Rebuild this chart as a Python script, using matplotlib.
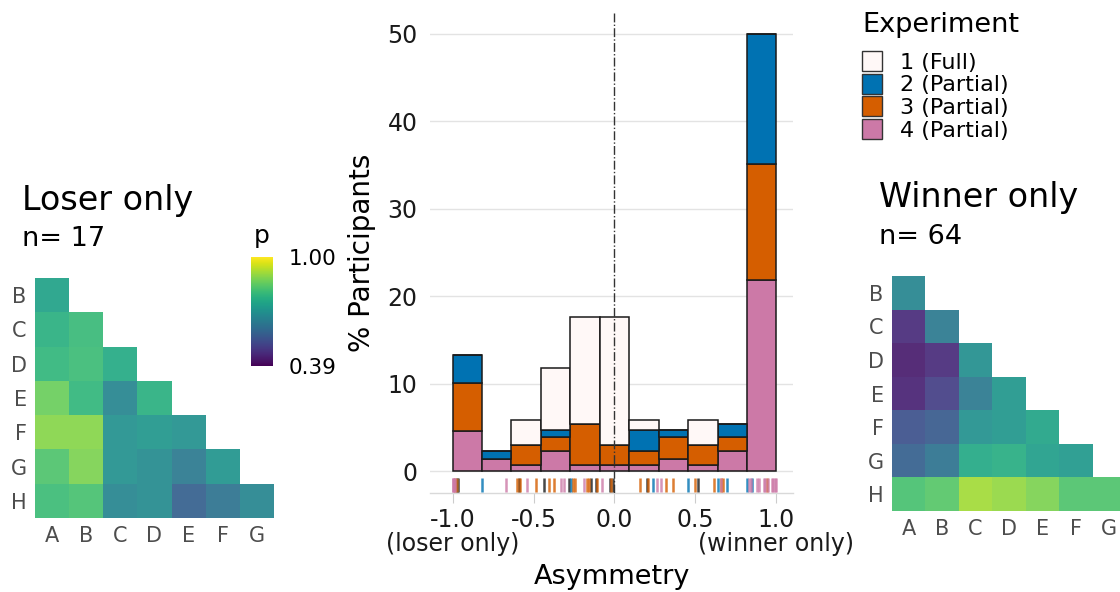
import numpy as np
import matplotlib
matplotlib.use("Agg")
import matplotlib.pyplot as plt
from matplotlib.patches import Patch
from matplotlib.cm import ScalarMappable
from matplotlib.colors import Normalize

plt.rcParams['font.family'] = ['DejaVu Sans']

# histogram (% participants per asymmetry bin, stacked by experiment)
bin_edges_lo, bin_edges_hi, n_bins = -1.0, 1.0, 11
exp4 = [4.6, 1.45, 0.73, 2.3, 0.73, 0.73, 0.73, 1.45, 0.73, 2.3, 21.85]
exp3 = [5.55, 0.0, 2.3, 1.63, 4.73, 2.32, 1.57, 2.48, 2.32, 1.63, 13.25]
exp2 = [3.15, 0.85, 0.0, 0.8, 0.0, 0.0, 2.4, 0.8, 0.0, 1.53, 14.9]
exp1 = [0.0, 0.0, 2.87, 7.07, 12.21, 14.62, 1.2, 0.0, 2.85, 0.0, 0.0]

# individual participants (rug)
rug1 = [-0.965, -0.59, -0.437, -0.28, -0.143, -0.116, -0.03, -0.01, 0.20, 0.515]
rug2 = [-0.97, -0.816, -0.27, 0.238, 0.454, 0.639, 0.694, 0.815, 0.85]
rug3 = [-0.985, -0.975, -0.604, -0.585, -0.486, -0.406, -0.373, -0.255, -0.245,
        -0.17, -0.155, -0.105, -0.02, 0.156, 0.205, 0.32, 0.361, 0.498, 0.612,
        0.655, 0.67, 0.94]
rug4 = [-1.0, -0.995, -0.99, -0.982, -0.672, -0.542, -0.33, -0.31, -0.19, -0.08,
        0.264, 0.289, 0.66, 0.83, 0.84, 0.88, 0.89, 0.92, 0.93, 0.95, 0.97,
        0.98, 0.99, 1.0]

exp_labels = ["1 (Full)", "2 (Partial)", "3 (Partial)", "4 (Partial)"]
exp_colors = ["#FFF8F7", "#0072B2", "#D55E00", "#CC79A7"]
rug_colors = ["#1a1a1a", "#0072B2", "#D55E00", "#CC79A7"]

x_ticks = [-1.0, -0.5, 0.0, 0.5, 1.0]
x_ticklabels = ["-1.0", "-0.5", "0.0", "0.5", "1.0"]
x_sublabels = {-1.0: "(loser only)", 1.0: "(winner only)"}

# heatmaps (lower triangle, rows B..H, cols A..G)
rows = ["B", "C", "D", "E", "F", "G", "H"]
cols = ["A", "B", "C", "D", "E", "F", "G"]
loser_p = [
    [0.74],
    [0.775, 0.80],
    [0.79, 0.805, 0.76],
    [0.86, 0.79, 0.665, 0.775],
    [0.89, 0.89, 0.695, 0.71, 0.695],
    [0.83, 0.88, 0.695, 0.68, 0.635, 0.705],
    [0.805, 0.82, 0.665, 0.68, 0.575, 0.62, 0.665],
]
winner_p = [
    [0.665],
    [0.463, 0.635],
    [0.433, 0.463, 0.69],
    [0.445, 0.50, 0.635, 0.71],
    [0.54, 0.56, 0.695, 0.71, 0.745],
    [0.575, 0.62, 0.756, 0.77, 0.73, 0.715],
    [0.82, 0.84, 0.915, 0.90, 0.88, 0.83, 0.83],
]
p_min, p_max = 0.39, 1.00

fig = plt.figure(figsize=(11.2, 5.92), dpi=100)
norm = Normalize(p_min, p_max)


def draw_heat(ax, values):
    m = np.full((7, 7), np.nan)
    for i, row in enumerate(values):
        m[i, :len(row)] = row
    ax.pcolormesh(np.arange(8), np.arange(8), np.ma.masked_invalid(m),
                  cmap="viridis", norm=norm, alpha=0.92,
                  edgecolor="none", linewidth=0, antialiased=False)
    ax.set_xlim(0, 7)
    ax.set_ylim(7, 0)
    ax.set_xticks(np.arange(7) + 0.5)
    ax.set_xticklabels(cols)
    ax.set_yticks(np.arange(7) + 0.5)
    ax.set_yticklabels(rows)
    ax.tick_params(length=0, labelsize=15, labelcolor="#4d4d4d", pad=6)
    for s in ax.spines.values():
        s.set_visible(False)


# left heatmap
axl = fig.add_axes([35 / 1120, 74 / 592, 239 / 1120, 240 / 592])
draw_heat(axl, loser_p)
fig.text(22 / 1120, 1 - 201 / 592, "Loser only", fontsize=24, va="center")
fig.text(22 / 1120, 1 - 239 / 592, "n= 17", fontsize=19.5, va="center")

# right heatmap
axr = fig.add_axes([892 / 1120, 81 / 592, 234 / 1120, 235 / 592])
draw_heat(axr, winner_p)
fig.text(879 / 1120, 1 - 198 / 592, "Winner only", fontsize=24, va="center")
fig.text(879 / 1120, 1 - 237 / 592, "n= 64", fontsize=19.5, va="center")

# colorbar
cax = fig.add_axes([251 / 1120, (592 - 366) / 592, 22 / 1120, 109 / 592])
cb = fig.colorbar(ScalarMappable(norm=norm, cmap="viridis"), cax=cax,
                  ticks=[p_min, p_max])
cb.ax.set_yticklabels(["0.39", "1.00"])
cb.outline.set_visible(False)
cb.ax.tick_params(length=0, labelsize=15.5, pad=11)
fig.text(262 / 1120, 1 - 236 / 592, "p", fontsize=18, ha="center", va="center")

# histogram
ax = fig.add_axes([430 / 1120, 99 / 592, 363 / 1120, 480 / 592])
edges = np.linspace(bin_edges_lo, bin_edges_hi, n_bins + 1)
width = edges[1] - edges[0]
bottom = np.zeros(n_bins)
for vals, col in zip([exp4, exp3, exp2, exp1], exp_colors[::-1]):
    ax.bar(edges[:-1], vals, width=width, bottom=bottom, align="edge",
           color=col, edgecolor="#1a1a1a", linewidth=1.1, zorder=3)
    bottom += np.array(vals)

for r, col in zip([rug1, rug2, rug3, rug4], rug_colors):
    ax.vlines(r, -2.4, -0.8, color=col, linewidth=1.8, alpha=0.8, zorder=3)

ax.axvline(0, color="#333333", linestyle="-.", linewidth=1.0, zorder=4)
ax.set_xlim(-1.139, 1.102)
ax.set_ylim(-2.48, 52.4)
ax.set_yticks([0, 10, 20, 30, 40, 50])
ax.set_xticks(x_ticks)
ax.set_xticklabels(x_ticklabels)
for xv, lab in x_sublabels.items():
    ax.annotate(lab, xy=(xv, 0), xycoords=("data", "axes fraction"),
                xytext=(0, -28), textcoords="offset points",
                ha="center", va="top", fontsize=17, color="#1a1a1a")
ax.grid(axis="y", color="#e3e3e3", linewidth=1.0, zorder=0)
for s in ["top", "right", "left"]:
    ax.spines[s].set_visible(False)
ax.spines["bottom"].set_color("#d9d9d9")
ax.spines["bottom"].set_linewidth(1.0)
ax.tick_params(axis="x", length=7, color="#cccccc", labelsize=17,
               labelcolor="#1a1a1a", pad=4)
ax.tick_params(axis="y", length=0, labelsize=17, labelcolor="#1a1a1a", pad=9)
ax.set_ylabel("% Participants", fontsize=20, labelpad=8)
ax.set_xlabel("Asymmetry", fontsize=19.5, labelpad=23)

# legend
fig.text(862 / 1120, 1 - 25 / 592, "Experiment", fontsize=19.5, va="center")
handles = [Patch(facecolor=c, edgecolor="#333333", linewidth=1.0) for c in exp_colors]
fig.legend(handles, exp_labels, loc="upper left",
           bbox_to_anchor=(862 / 1120, 1 - 51 / 592), frameon=False,
           fontsize=16, handlelength=0.9, handleheight=1.0, handletextpad=0.8,
           labelspacing=0.05, borderpad=0.0, borderaxespad=0.0)

fig.savefig("out.png", dpi=100)
